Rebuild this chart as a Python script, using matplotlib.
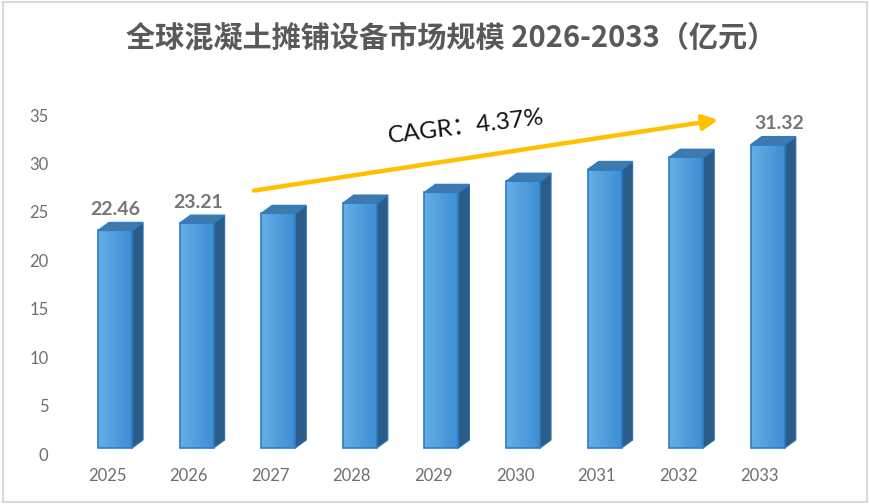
import numpy as np
import matplotlib.pyplot as plt
from matplotlib.patches import Rectangle, Polygon
from matplotlib.colors import LinearSegmentedColormap

plt.rcParams['font.family'] = ['Lato', 'Noto Sans CJK SC', 'DejaVu Sans']

years = ['2025', '2026', '2027', '2028', '2029', '2030', '2031', '2032', '2033']
values = [22.46, 23.21, 24.22, 25.28, 26.39, 27.54, 28.75, 30.01, 31.32]
shown_labels = {0: '22.46', 1: '23.21', 8: '31.32'}
yticks = [0, 5, 10, 15, 20, 25, 30, 35]
title = '全球混凝土摊铺设备市场规模 2026-2033（亿元）'
cagr_text = 'CAGR：4.37%'

fig = plt.figure(figsize=(8.7, 5.04), dpi=100)
ax = fig.add_axes([0.0574, 0.0992, 0.8816, 0.6726])
ax.set_xlim(-0.7, 8.7)
ax.set_ylim(0, 35)
for s in ax.spines.values():
    s.set_visible(False)
ax.set_xticks(range(len(years)))
ax.set_xticklabels(years)
ax.set_yticks(yticks)
ax.tick_params(length=0, labelsize=12, colors='#6e6e6e')
ax.tick_params(axis='x', pad=10)
ax.tick_params(axis='y', pad=1)

# pixel -> data conversion for the fake 3d depth
p0 = ax.transData.transform((0, 0))
p1 = ax.transData.transform((1, 1))
px_x = p1[0] - p0[0]
px_y = p1[1] - p0[1]
shift_x = 8 / px_x      # front face sits a bit right of the tick
base = 6 / px_y         # and a bit above the zero line
dx = 11 / px_x
dy = 8 / px_y
w = 34 / px_x

cmap = LinearSegmentedColormap.from_list('front', ['#66aee5', '#3d8ed4'])
grad = np.linspace(0, 1, 64).reshape(1, -1)

for k, v in enumerate(values):
    xl = k + shift_x - w / 2
    xr = xl + w
    top = base + v
    rect = Rectangle((xl, base), w, v, facecolor='none', edgecolor='#2e7dc5',
                     linewidth=1.2, zorder=4)
    ax.add_patch(rect)
    im = ax.imshow(grad, cmap=cmap, extent=[xl, xr, base, top], aspect='auto',
                   interpolation='bilinear', zorder=3)
    im.set_clip_path(rect)
    side = Polygon([(xr, base), (xr + dx, base + dy), (xr + dx, top + dy), (xr, top)],
                   closed=True, facecolor='#2c5d8a', edgecolor='#2e6fae',
                   linewidth=0.8, zorder=3)
    ax.add_patch(side)
    lid = Polygon([(xl, top), (xr, top), (xr + dx, top + dy), (xl + dx, top + dy)],
                  closed=True, facecolor='#4079ab', edgecolor='#2e7dc5',
                  linewidth=1.0, zorder=4)
    ax.add_patch(lid)
    if k in shown_labels:
        lx = k + shift_x + dx * k / 8
        ax.text(lx, top + 21 / px_y, shown_labels[k], ha='center', va='center',
                fontsize=14, fontweight='bold', color='#767676', zorder=5)

ax.set_xlim(-0.7, 8.7)
ax.set_ylim(0, 35)

# CAGR arrow
ax.annotate('', xy=(7.49, 34.5), xytext=(1.80, 27.2),
            arrowprops=dict(arrowstyle='-|>,head_length=0.9,head_width=0.45',
                            color='#ffc000', lw=3.2, shrinkA=0, shrinkB=0),
            annotation_clip=False, zorder=6)
ax.text(4.40, 33.8, cagr_text, ha='center', va='center', fontsize=17.5,
        rotation=7, color='#111111', zorder=6)

fig.text(0.519, 0.925, title, ha='center', va='center', fontsize=21,
         fontweight='bold', color='#595959', family=['Noto Sans CJK SC', 'DejaVu Sans'])

fig.patches.append(Rectangle((0.003, 0.004), 0.994, 0.992, transform=fig.transFigure,
                             fill=False, edgecolor='#d9d9d9', linewidth=1.5))

fig.savefig('out.png', dpi=100)
